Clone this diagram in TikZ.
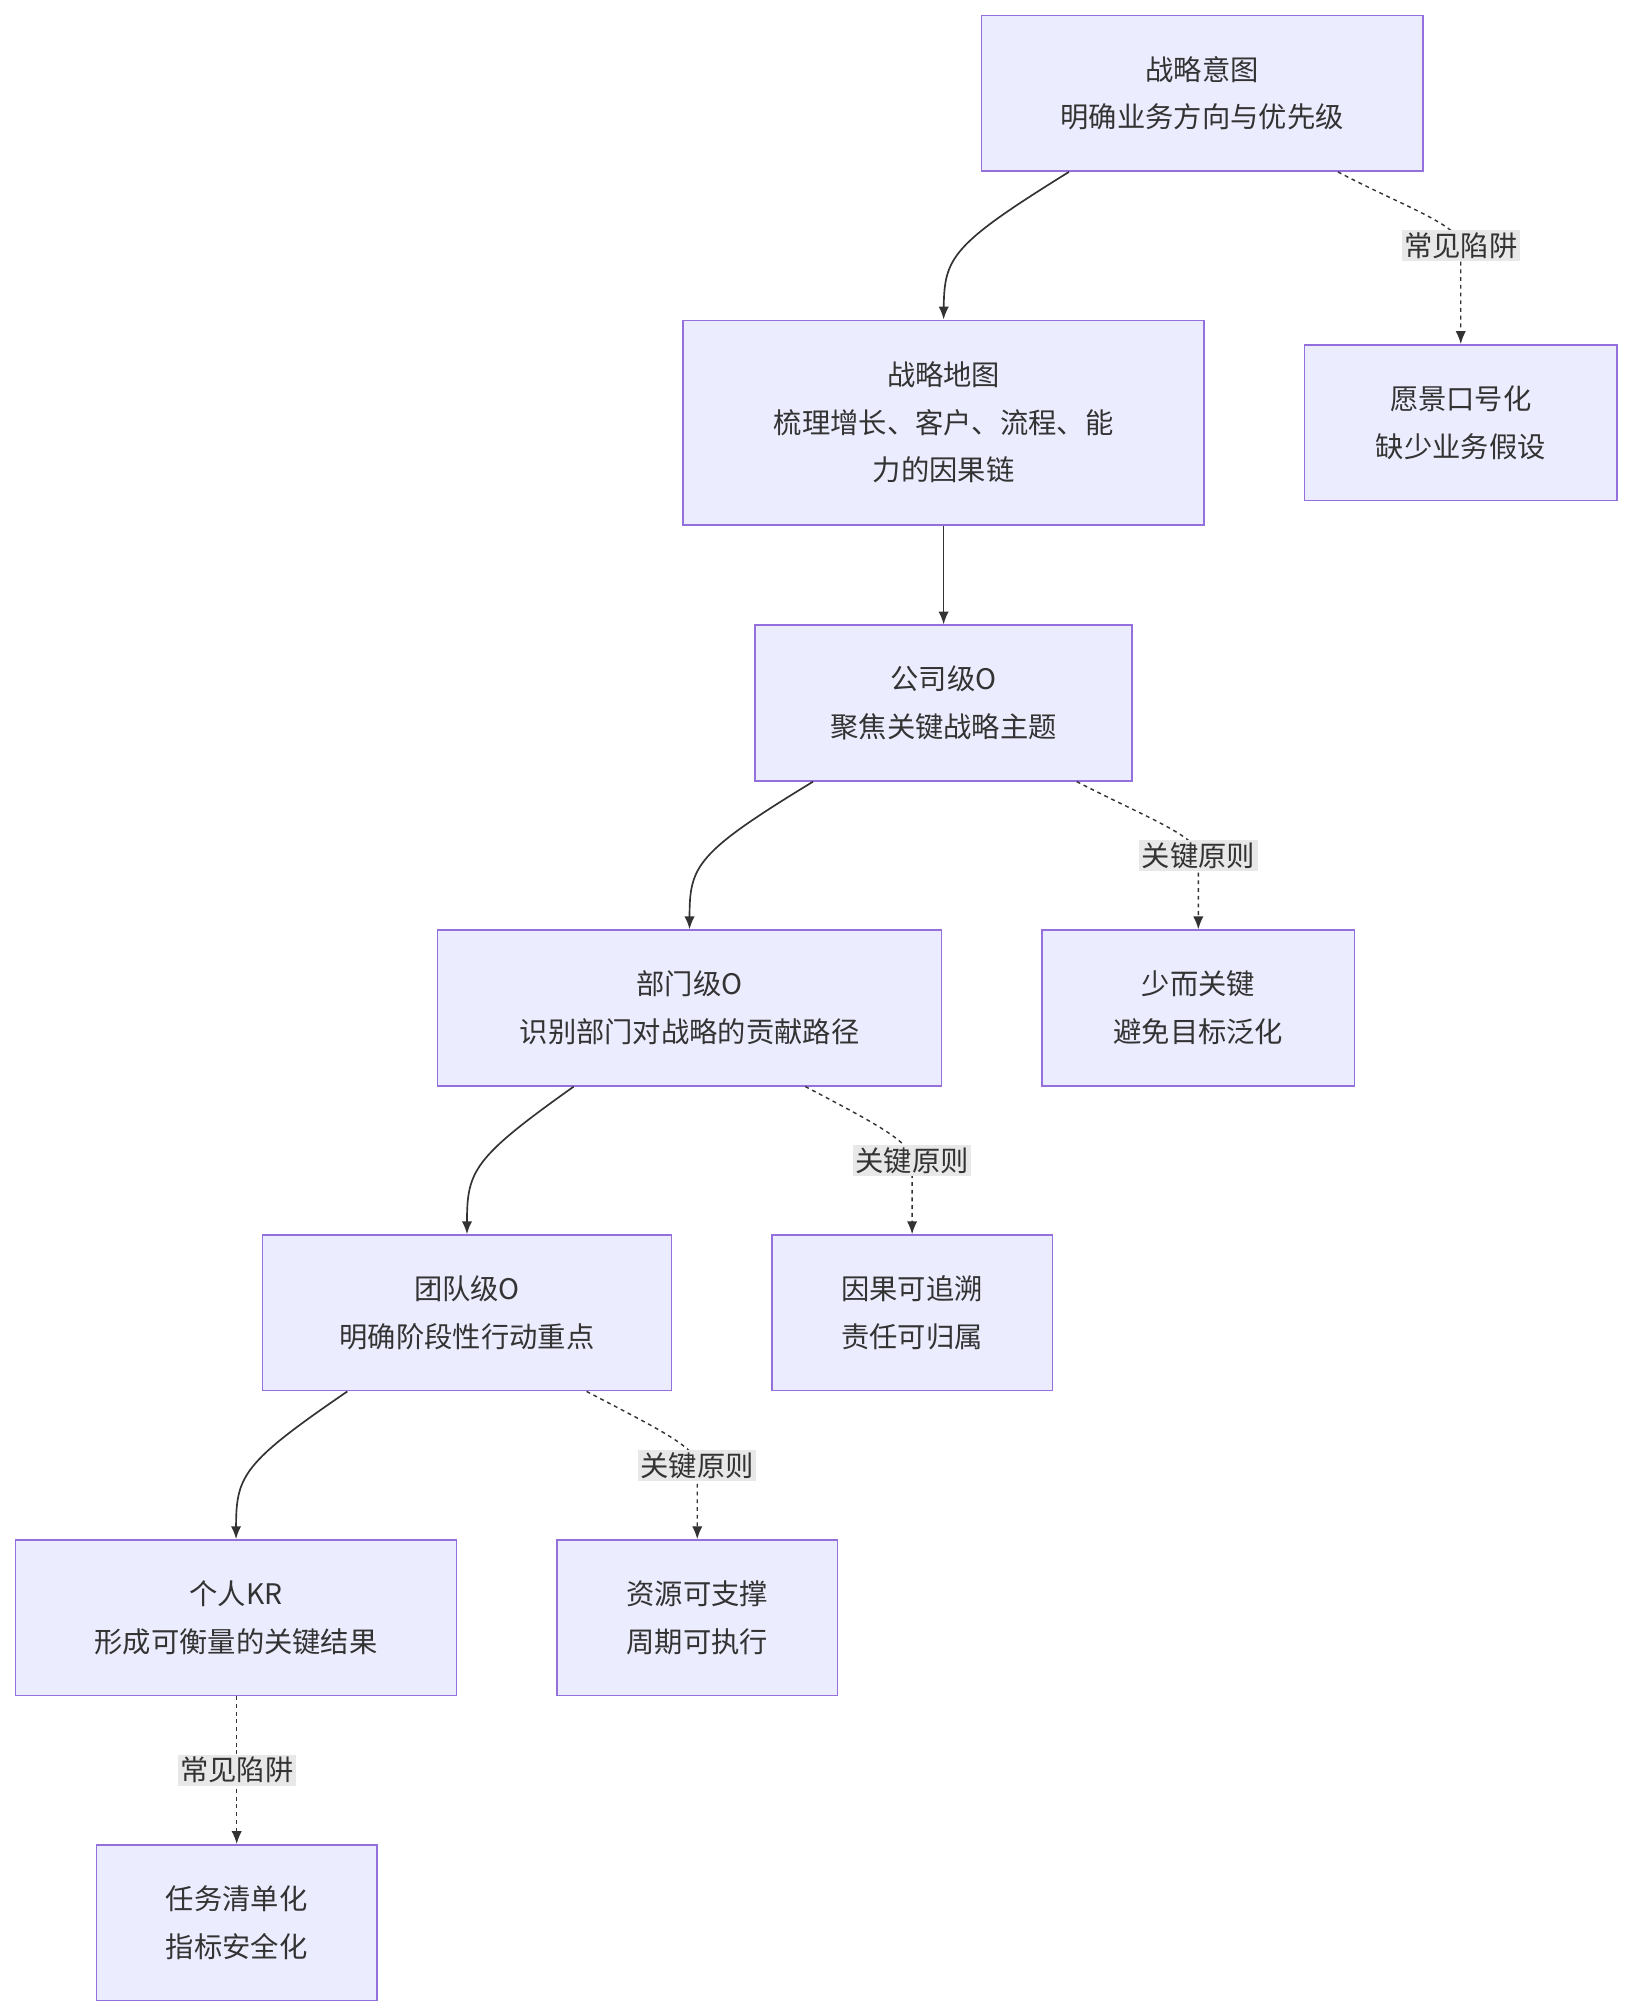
\documentclass[tikz,border=0pt]{standalone}
\usepackage{fontspec}
\setmainfont{Noto Sans CJK SC}
\usetikzlibrary{arrows.meta}
\definecolor{nfill}{HTML}{ECECFF}
\definecolor{nbord}{HTML}{9370DB}
\definecolor{lbg}{HTML}{E8E8E8}
\definecolor{ecol}{HTML}{333333}
\begin{document}
\begin{tikzpicture}[x=1pt,y=-1pt,
  box/.style={draw=nbord,fill=nfill,line width=1.2pt,align=center,inner sep=0pt,
    font=\fontsize{22}{37}\selectfont,text=ecol},
  solidedge/.style={draw=ecol,line width=1.3pt,-{Latex[length=10pt,width=8pt]}},
  dashedge/.style={draw=ecol,line width=1.1pt,dash pattern=on 3pt off 3pt,-{Latex[length=10pt,width=8pt]}},
  lab/.style={fill=lbg,inner sep=2pt,font=\fontsize{22}{26}\selectfont,text=ecol}]
\useasboundingbox (0,0) rectangle (1268,1564);
\fill[white] (0,0) rectangle (1268,1564);
\node[box,minimum width=343pt,minimum height=121pt] (a) at (934.5,72.5) {战略意图\\明确业务方向与优先级};
\node[box,minimum width=405pt,minimum height=159pt] (b) at (733.5,328.5) {战略地图\\梳理增长、客户、流程、能\\力的因果链};
\node[box,minimum width=243pt,minimum height=121pt] (c) at (1135.5,328.5) {愿景口号化\\缺少业务假设};
\node[box,minimum width=293pt,minimum height=121pt] (d) at (733.5,546.5) {公司级O\\聚焦关键战略主题};
\node[box,minimum width=392pt,minimum height=121pt] (e) at (536,783.5) {部门级O\\识别部门对战略的贡献路径};
\node[box,minimum width=243pt,minimum height=121pt] (f) at (931.5,783.5) {少而关键\\避免目标泛化};
\node[box,minimum width=318pt,minimum height=121pt] (g) at (363,1020.5) {团队级O\\明确阶段性行动重点};
\node[box,minimum width=218pt,minimum height=121pt] (h) at (709,1020.5) {因果可追溯\\责任可归属};
\node[box,minimum width=343pt,minimum height=121pt] (i) at (183.5,1257.5) {个人KR\\形成可衡量的关键结果};
\node[box,minimum width=218pt,minimum height=121pt] (j) at (542,1257.5) {资源可支撑\\周期可执行};
\node[box,minimum width=218pt,minimum height=121pt] (k) at (184,1494.5) {任务清单化\\指标安全化};
% solid curved
\draw[solidedge] (a.south -| 831,0) .. controls (740,190) and (734,200) .. (b.north);
\draw[solidedge] (b.south) -- (d.north);
\draw[solidedge] (d.south -| 632,0) .. controls (541,663) and (536,673) .. (e.north);
\draw[solidedge] (e.south -| 446,0) .. controls (368,900) and (363,910) .. (g.north);
\draw[solidedge] (g.south -| 270,0) .. controls (189,1137) and (183.5,1147) .. (i.north);
% dashed with labels
\node[lab] (l1) at (1135.5,191) {常见陷阱};
\draw[dashedge] (a.south -| 1040,0) .. controls (1090,160) and (1135.5,175) .. (1135.5,191) -- (c.north);
\node[lab] (l2) at (931.5,665) {关键原则};
\draw[dashedge] (d.south -| 837,0) .. controls (890,635) and (931.5,650) .. (931.5,665) -- (f.north);
\node[lab] (l3) at (709,902) {关键原则};
\draw[dashedge] (e.south -| 626,0) .. controls (680,873) and (709,888) .. (709,902) -- (h.north);
\node[lab] (l4) at (542,1139) {关键原则};
\draw[dashedge] (g.south -| 456,0) .. controls (510,1110) and (542,1125) .. (542,1139) -- (j.north);
\node[lab] (l5) at (184,1376) {常见陷阱};
\draw[dashedge] (i.south -| 184,0) -- (k.north);
\node[lab] at (l1) {常见陷阱};
\node[lab] at (l2) {关键原则};
\node[lab] at (l3) {关键原则};
\node[lab] at (l4) {关键原则};
\node[lab] at (l5) {常见陷阱};
\end{tikzpicture}
\end{document}
